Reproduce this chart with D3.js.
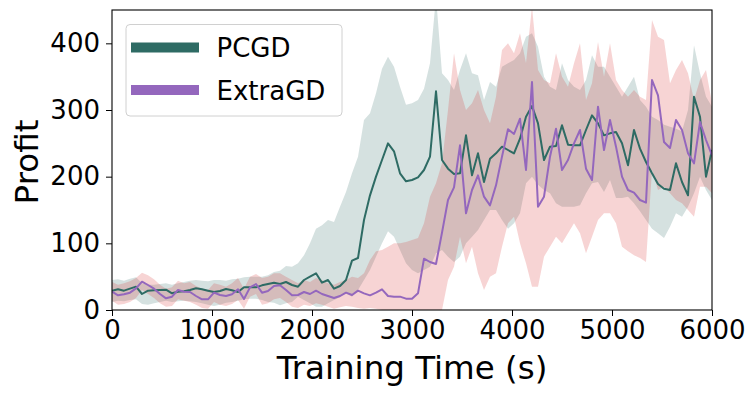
<!DOCTYPE html>
<html>
<head>
<meta charset="utf-8">
<script src="https://cdn.jsdelivr.net/npm/d3@7"></script>
<style>
  html, body { margin: 0; padding: 0; background: #fff; }
  svg { display: block; }
  text { font-family: "DejaVu Sans", sans-serif; fill: #000; }
</style>
</head>
<body>
<svg id="chart" width="756" height="396"></svg>
<script>
// ---- data ----
const seriesNames = ["PCGD", "ExtraGD"];
const xTicks = [0, 1000, 2000, 3000, 4000, 5000, 6000];
const yTicks = [0, 100, 200, 300, 400];
const xLabel = "Training Time (s)";
const yLabel = "Profit";

const time = [0,60,120,180,240,300,360,420,480,540,600,660,720,780,840,900,960,1020,1080,1140,
  1200,1260,1320,1380,1440,1500,1560,1620,1680,1740,1800,1860,1920,1980,2040,2100,2160,2220,2280,2340,
  2400,2460,2520,2580,2640,2700,2760,2820,2880,2940,3000,3060,3120,3180,3240,3300,3360,3420,3480,3540,
  3600,3660,3720,3780,3840,3900,3960,4020,4080,4140,4200,4260,4320,4380,4440,4500,4560,4620,4680,4740,
  4800,4860,4920,4980,5040,5100,5160,5220,5280,5340,5400,5460,5520,5580,5640,5700,5760,5820,5880,5940,6000];

const pcgdMean = [29,31,29,32,35,24,29,29.5,30,30.5,25,27.5,28,30,32.5,31,29,27,28.5,31.5,29.5,27,34,34,34,
  37,39,41,39,42,37.5,35,45,50,55,41,45,32,36,45,74,78,135,172,200,225,250,238,205,193,195,199,
  210,230,328,225,212,204,205,262,202,235,192,227,235,245,240,235,257,290,306,280,225,245,246,277,248,
  247,247,270,292,280,262,265,267,250,217,270,242,222,205,189,182,180,220,192,172,320,290,200,240];
const pcgdLow = [12,14,13,15,16,9,8,10,12,14,12,13,14,13,12,10,8,6,8,11,12,14,16,17,17,
  15,12,11,7,10,12,20,15,10,5,5,10,15,19,25,20,30,45,60,80,100,118,110,90,70,60,55,
  60,65,85,90,80,72,80,100,110,120,135,150,150,135,122,130,145,190,200,188,
  180,175,160,155,155,155,157,175,190,192,177,195,168,168,170,160,148,135,122,115,
  108,125,145,140,155,175,200,180,165];
const pcgdHigh = [45,46,44,47,49,40,38,38,39,40,38,40,42,44,45,44,43,45,45,44,46,47,49,50,50,
  50,52,57,59,66,65,70,82,100,122,127,135,132,155,177,205,230,285,295,325,362,380,365,335,308,310,315,
  332,370,470,355,345,330,360,385,355,352,315,342,335,365,370,375,385,410,415,395,350,335,330,370,345,
  335,330,345,382,365,365,350,335,320,335,350,315,305,290,285,278,275,272,268,300,397,355,320,305];

const extraMean = [27.5,22,23.5,26,32.5,42.5,37.5,32,24,17.5,20,30,27.5,27,21,16,16,26,22.5,21,23.5,31,16.5,34,39,
  26,28.5,36,37,30,22,22.5,27,24,29,24,21,18,21,26,22.5,29,25,22,26,31,21,20,20,17,17,25,
  77,72,69,116,165,184,247,145,180,202,170,157,187,230,271,264,287,210,342,155,170,230,272,210,225,
  250,270,212,195,305,240,285,245,200,180,176,165,161,345,322,252,243,285,270,235,220,282,255,232];
const extraLow = [14,8,9,12,18,30,24,18,10,5,6,16,14,12,8,3,2,12,8,6,9,15,2,20,24,
  8,10,16,18,12,5,3,8,6,10,8,5,2,4,6,5,3,2,3,2,0,0,0,0,0,0,0,0,0,0,0,
  45,65,110,70,95,55,30,50,55,95,130,140,100,70,35,35,80,95,110,100,
  115,130,115,85,110,135,145,145,130,95,88,82,78,72,210,180,185,175,165,160,150,140,185,185,175];
const extraHigh = [42,38,40,43,48,56,52,46,38,32,34,44,40,42,36,32,30,40,38,35,40,48,32,50,54,
  48,50,55,55,50,45,40,45,42,48,45,40,38,42,45,50,48,55,75,88,90,95,100,100,102,105,108,
  130,170,190,220,300,385,330,300,310,330,300,280,320,390,400,385,415,370,455,360,
  345,340,385,350,335,370,400,315,340,402,350,400,345,330,320,330,320,315,435,410,
  405,340,360,375,355,315,345,360,310];

const colors = { PCGD: "#2e6b64", ExtraGD: "#9467bd" };
const fills = { PCGD: "#2e6b64", ExtraGD: "#d62728" };

// ---- layout ----
const svg = d3.select("#chart");
const L = 112, R = 712, T = 10, B = 310;
const x = d3.scaleLinear().domain([0, 6000]).range([L, R]);
const y = d3.scaleLinear().domain([0, 450]).range([B, T]);

svg.append("defs").append("clipPath").attr("id", "plotclip")
  .append("rect").attr("x", L).attr("y", T).attr("width", R - L).attr("height", B - T);

const plot = svg.append("g").attr("clip-path", "url(#plotclip)");

const series = [
  { name: "PCGD", mean: pcgdMean, lo: pcgdLow, hi: pcgdHigh },
  { name: "ExtraGD", mean: extraMean, lo: extraLow, hi: extraHigh }
];

const area = d3.area()
  .x((d, i) => x(time[i]))
  .y0(d => y(d[0]))
  .y1(d => y(d[1]));
const line = d3.line()
  .x((d, i) => x(time[i]))
  .y(d => y(d));

series.forEach(s => {
  const band = s.lo.map((v, i) => [v, s.hi[i]]);
  plot.append("path").datum(band)
    .attr("d", area)
    .attr("fill", fills[s.name])
    .attr("fill-opacity", 0.2)
    .attr("stroke", "none");
});
series.forEach(s => {
  plot.append("path").datum(s.mean)
    .attr("d", line)
    .attr("fill", "none")
    .attr("stroke", colors[s.name])
    .attr("stroke-width", 2)
    .attr("stroke-linejoin", "round");
});

// ---- axes ----
const xAxis = d3.axisBottom(x).tickValues(xTicks).tickFormat(d3.format("d")).tickSize(6).tickPadding(5);
const yAxis = d3.axisLeft(y).tickValues(yTicks).tickFormat(d3.format("d")).tickSize(6).tickPadding(6);

const gx = svg.append("g").attr("transform", `translate(0,${B})`).call(xAxis);
const gy = svg.append("g").attr("transform", `translate(${L},0)`).call(yAxis);
[gx, gy].forEach(g => {
  g.select(".domain").remove();
  g.selectAll(".tick line").attr("stroke", "#000").attr("stroke-width", 1);
  g.selectAll(".tick text").attr("font-size", 26).attr("font-family", "DejaVu Sans").attr("fill", "#000");
});

// frame
svg.append("rect")
  .attr("x", L).attr("y", T).attr("width", R - L).attr("height", B - T)
  .attr("fill", "none").attr("stroke", "#000").attr("stroke-width", 1.1);

// axis labels
svg.append("text")
  .attr("x", (L + R) / 2).attr("y", 379)
  .attr("text-anchor", "middle").attr("font-size", 32.5)
  .text(xLabel);
svg.append("text")
  .attr("transform", `translate(38,${(T + B) / 2 + 2}) rotate(-90)`)
  .attr("text-anchor", "middle").attr("font-size", 32.5)
  .text(yLabel);

// legend
const lg = svg.append("g");
lg.append("rect")
  .attr("x", 126).attr("y", 24.5).attr("width", 216).attr("height", 91.5).attr("rx", 4)
  .attr("fill", "#fff").attr("fill-opacity", 0.8)
  .attr("stroke", "#d0d0d0").attr("stroke-width", 1);
seriesNames.forEach((n, i) => {
  const cy = 47.5 + i * 42.5;
  lg.append("line")
    .attr("x1", 131).attr("x2", 199).attr("y1", cy).attr("y2", cy)
    .attr("stroke", colors[n]).attr("stroke-width", 10);
  lg.append("text")
    .attr("x", 216.5).attr("y", cy + 9.5)
    .attr("font-size", 26)
    .text(n);
});
</script>
</body>
</html>
